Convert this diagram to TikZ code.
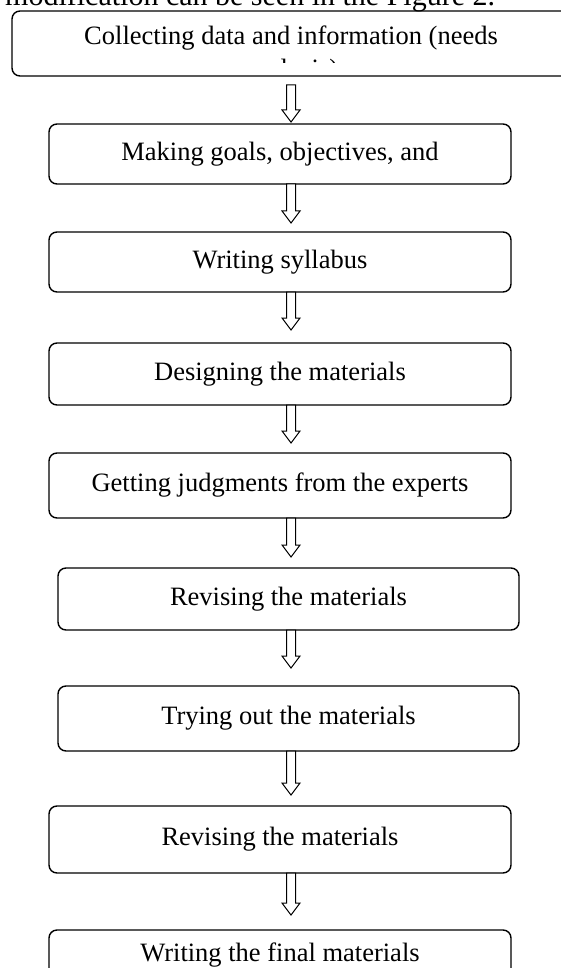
\documentclass[tikz,border=0pt]{standalone}
\usepackage{fontspec}
\setmainfont{Liberation Serif}
\usetikzlibrary{calc}
\newcommand{\blockarrow}[2]{%
  \draw[blockarr] ($(#1)+(-4.5,0)$) -- ($(#2)+(-4.5,12)$) -- ($(#2)+(-9,12)$) -- (#2)
    -- ($(#2)+(9,12)$) -- ($(#2)+(4.5,12)$) -- ($(#1)+(4.5,0)$) -- cycle;}
\begin{document}
\begin{tikzpicture}[x=1pt,y=1pt,
  stepbox/.style={draw, line width=1.4pt, rounded corners=8pt, inner sep=0pt,
    font=\fontsize{26.5}{30}\selectfont},
  plaintext/.style={inner sep=0pt, font=\fontsize{26.5}{30}\selectfont},
  blockarr/.style={draw, line width=1pt, fill=white, line join=miter}]
\clip (0,0) rectangle (561,-968);
\fill[white] (0,0) rectangle (561,-968);
% caption line, cut at the top
\node[anchor=base west, inner sep=0pt, font=\fontsize{30}{34}\selectfont] (cap) at (5,-6)
  {modification can be seen in the Figure 2.};
% box 1 (cut at the right and its second line clipped)
\node[stepbox, minimum width=558, minimum height=65] (b1) at (291,-43.5) {};
\node[plaintext, anchor=base] (b1t) at (291,-45) {Collecting data and information (needs};
\begin{scope}
  \clip (12,-11) rectangle (570,-63);
  \node[plaintext, anchor=base] (b1u) at (291,-78) {analysis)};
\end{scope}
% other boxes
\node[stepbox, minimum width=462, minimum height=60] (b2) at (280,-154) {Making goals, objectives, and};
\node[stepbox, minimum width=462, minimum height=60] (b3) at (280,-262) {Writing syllabus};
\node[stepbox, minimum width=462, minimum height=62] (b4) at (280,-374) {Designing the materials};
\node[stepbox, minimum width=462, minimum height=65] (b5) at (280,-485.5) {Getting judgments from the experts};
\node[stepbox, minimum width=461, minimum height=62] (b6) at (288.5,-599) {Revising the materials};
\node[stepbox, minimum width=461, minimum height=65] (b7) at (288.5,-718.5) {Trying out the materials};
\node[stepbox, minimum width=462, minimum height=67] (b8) at (280,-839.5) {Revising the materials};
\node[stepbox, minimum width=462, minimum height=50] (b9) at (280,-955) {Writing the final materials};
% arrow end points
\coordinate (a1s) at (291,-85);  \coordinate (a1e) at (291,-122);
\coordinate (a2s) at (291,-184); \coordinate (a2e) at (291,-223);
\coordinate (a3s) at (291,-292); \coordinate (a3e) at (291,-330);
\coordinate (a4s) at (291,-405); \coordinate (a4e) at (291,-443);
\coordinate (a5s) at (291,-518); \coordinate (a5e) at (291,-557);
\coordinate (a6s) at (291,-630); \coordinate (a6e) at (291,-668);
\coordinate (a7s) at (291,-751); \coordinate (a7e) at (291,-795);
\coordinate (a8s) at (291,-873); \coordinate (a8e) at (291,-915);
\blockarrow{a1s}{a1e}
\blockarrow{a2s}{a2e}
\blockarrow{a3s}{a3e}
\blockarrow{a4s}{a4e}
\blockarrow{a5s}{a5e}
\blockarrow{a6s}{a6e}
\blockarrow{a7s}{a7e}
\blockarrow{a8s}{a8e}
\end{tikzpicture}
\end{document}
